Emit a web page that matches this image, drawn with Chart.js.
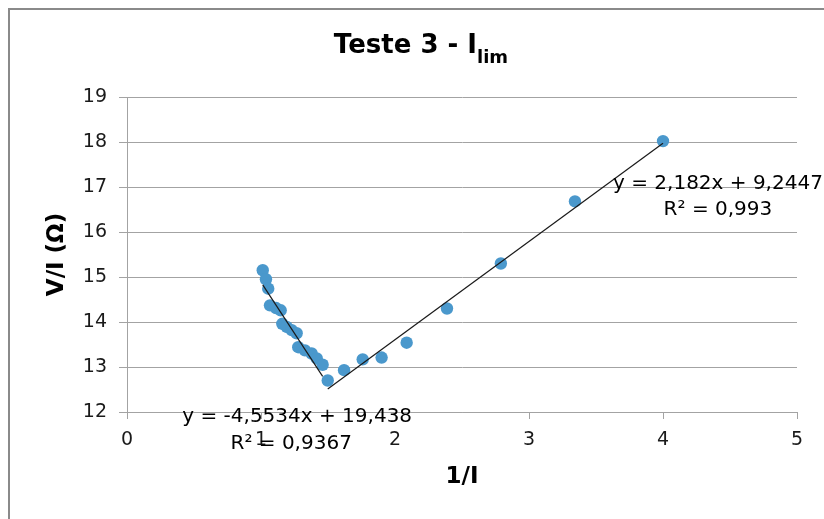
<!DOCTYPE html>
<html>
<head>
<meta charset="utf-8">
<title>Teste 3 - Ilim</title>
<script src="https://cdn.jsdelivr.net/npm/chart.js@4.4.1/dist/chart.umd.min.js"></script>
<style>
  html, body { margin: 0; padding: 0; background: #fff; }
  canvas { display: block; }
</style>
</head>
<body>
<canvas id="chart" width="824" height="519"></canvas>
<script>
// measured points, 1/I against V/I
const xLeft = [1.013, 1.037, 1.054, 1.067, 1.112, 1.147, 1.159, 1.192, 1.229, 1.266, 1.278, 1.328, 1.378, 1.416, 1.46];
const yLeft = [15.15, 14.95, 14.74, 14.37, 14.31, 14.26, 13.96, 13.89, 13.82, 13.75, 13.44, 13.37, 13.30, 13.19, 13.05];
const xRight = [1.498, 1.62, 1.759, 1.90, 2.087, 2.388, 2.79, 3.343, 4.0];
const yRight = [12.70, 12.93, 13.17, 13.21, 13.54, 14.30, 15.30, 16.68, 18.02];

// linear trendlines: [slope, intercept]
const fitLeft = [-4.5534, 19.438];
const fitRight = [2.182, 9.2447];
const eqLeft = ['y = -4,5534x + 19,438', 'R² = 0,9367'];
const eqRight = ['y = 2,182x + 9,2447', 'R² = 0,993'];

const xTicks = [0, 1, 2, 3, 4, 5];
const yTicks = [12, 13, 14, 15, 16, 17, 18, 19];

const FONT = "'DejaVu Sans', sans-serif";
const GRID = '#a3a3a3';

function toPoints(xs, ys) {
    return xs.map((x, i) => ({ x: x, y: ys[i] }));
}

function trend(xs, fit) {
    const lo = Math.min(...xs), hi = Math.max(...xs);
    return [lo, hi].map(x => ({ x: x, y: fit[0] * x + fit[1] }));
}

// frame, title and the trendline labels
const decor = {
    id: 'decor',
    beforeDraw(chart) {
        const ctx = chart.ctx;
        ctx.save();
        ctx.fillStyle = '#fff';
        ctx.fillRect(0, 0, chart.width, chart.height);
        ctx.strokeStyle = '#8a8a8a';
        ctx.lineWidth = 2;
        ctx.beginPath();
        ctx.moveTo(9, chart.height + 5);
        ctx.lineTo(9, 9);
        ctx.lineTo(chart.width + 5, 9);
        ctx.stroke();
        ctx.restore();
    },
    afterDraw(chart) {
        const ctx = chart.ctx;
        const xs = chart.scales.x, ys = chart.scales.y;
        ctx.save();
        ctx.fillStyle = '#000';

        // title with subscript
        const main = 'Teste 3 - I', sub = 'lim';
        ctx.font = 'bold 26px ' + FONT;
        const wMain = ctx.measureText(main).width;
        ctx.font = 'bold 18px ' + FONT;
        const wSub = ctx.measureText(sub).width;
        const x0 = 421 - (wMain + wSub) / 2;
        ctx.textAlign = 'left';
        ctx.textBaseline = 'alphabetic';
        ctx.font = 'bold 26px ' + FONT;
        ctx.fillText(main, x0, 53);
        ctx.font = 'bold 18px ' + FONT;
        ctx.fillText(sub, x0 + wMain, 63);

        // equation labels
        ctx.font = '20px ' + FONT;
        ctx.textAlign = 'center';
        ctx.textBaseline = 'middle';
        const lx = xs.getPixelForValue(1.27);
        ctx.fillText(eqLeft[0], lx, ys.getPixelForValue(11.89));
        ctx.fillText(eqLeft[1], lx - 6, ys.getPixelForValue(11.30));
        const rx = xs.getPixelForValue(4.41);
        ctx.fillText(eqRight[0], rx, ys.getPixelForValue(17.08));
        ctx.fillText(eqRight[1], rx, ys.getPixelForValue(16.50));
        ctx.restore();
    }
};

new Chart(document.getElementById('chart'), {
    type: 'scatter',
    data: {
        datasets: [
            {
                data: toPoints(xLeft.concat(xRight), yLeft.concat(yRight)),
                backgroundColor: '#4a98cc',
                borderWidth: 0,
                pointRadius: 6.2,
                order: 1
            },
            {
                type: 'line',
                data: trend(xLeft, fitLeft),
                borderColor: '#1a1a1a',
                borderWidth: 1.2,
                pointRadius: 0,
                order: 0
            },
            {
                type: 'line',
                data: trend(xRight, fitRight),
                borderColor: '#1a1a1a',
                borderWidth: 1.2,
                pointRadius: 0,
                order: 0
            }
        ]
    },
    options: {
        responsive: false,
        animation: false,
        layout: { padding: { left: 30, top: 97, right: 27, bottom: 28 } },
        plugins: {
            legend: { display: false },
            tooltip: { enabled: false },
            title: { display: false }
        },
        scales: {
            x: {
                type: 'linear',
                min: xTicks[0],
                max: xTicks[xTicks.length - 1],
                afterFit(scale) { scale.height = 79; },
                afterBuildTicks(scale) { scale.ticks = xTicks.map(v => ({ value: v })); },
                ticks: { color: '#1a1a1a', font: { family: FONT, size: 19 }, padding: 10 },
                grid: { drawOnChartArea: false, color: GRID, tickLength: 7 },
                border: { color: GRID },
                title: {
                    display: true,
                    text: '1/I',
                    color: '#000',
                    font: { family: FONT, size: 23, weight: 'bold' },
                    padding: { top: 0, bottom: 0 }
                }
            },
            y: {
                type: 'linear',
                min: yTicks[0],
                max: yTicks[yTicks.length - 1],
                afterFit(scale) { scale.width = 97; },
                afterBuildTicks(scale) { scale.ticks = yTicks.map(v => ({ value: v })); },
                ticks: { color: '#1a1a1a', font: { family: FONT, size: 19 }, padding: 12 },
                grid: { color: GRID, tickLength: 8 },
                border: { color: GRID },
                title: {
                    display: true,
                    text: 'V/I (Ω)',
                    color: '#000',
                    font: { family: FONT, size: 23, weight: 'bold' },
                    padding: { top: 13, bottom: 0 }
                }
            }
        }
    },
    plugins: [decor]
});
</script>
</body>
</html>
